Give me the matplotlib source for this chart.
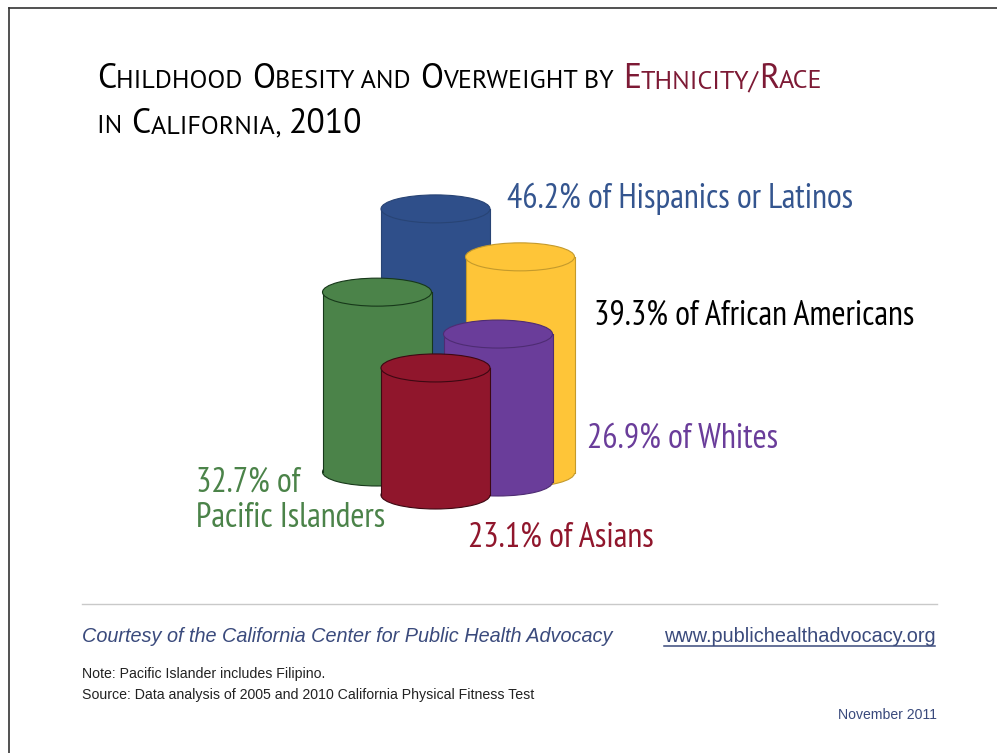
import matplotlib
matplotlib.use('Agg')
import matplotlib.pyplot as plt
from matplotlib.patches import Ellipse

# Values, drawn back to front
groups = ['Hispanics or Latinos', 'African Americans', 'Pacific Islanders', 'Whites', 'Asians']
values = [46.2, 39.3, 32.7, 26.9, 23.1]
colors = ['#2f4f8a', '#fec538', '#4b8349', '#6a3d9a', '#90162c']
edges = ['#284475', '#c49a2c', '#17381a', '#4e2c73', '#3d0812']

# Cylinder layout in pixels
centers = [435.5, 520, 377, 498, 435.5]
bases = [463, 473, 472, 482, 495]
px_per_pct = 5.5
rx = 54.5
ry = 14

title_font = ['PT Sans', 'Lato']
label_font = ['PT Sans Narrow', 'Lato']
body_font = 'Liberation Sans'
dark_red = '#7d1a35'
navy = '#3a4a7c'

fig = plt.figure(figsize=(9.97, 7.53), dpi=100)
ax = fig.add_axes([0, 0, 1, 1])
ax.set_xlim(0, 997)
ax.set_ylim(753, 0)
ax.axis('off')

# Slide border
ax.plot([9, 9], [753, 8], color='#333333', lw=1.2)
ax.plot([9, 997], [8, 8], color='#333333', lw=1.2)

# Cylinders
for i in range(len(values)):
    top = bases[i] - values[i] * px_per_pct
    z = 2 + i
    ax.add_patch(Ellipse((centers[i], bases[i]), rx * 2, ry * 2, fc=colors[i], ec=edges[i], lw=0.8, zorder=z))
    ax.bar(centers[i], bases[i] - top, width=rx * 2, bottom=top, color=colors[i], lw=0, zorder=z)
    ax.plot([centers[i] - rx] * 2, [top, bases[i]], color=edges[i], lw=0.8, zorder=z)
    ax.plot([centers[i] + rx] * 2, [top, bases[i]], color=edges[i], lw=0.8, zorder=z)
    ax.add_patch(Ellipse((centers[i], top), rx * 2, ry * 2, fc=colors[i], ec=edges[i], lw=0.8, zorder=z))


def small_caps(x, y, runs):
    # runs = (text, size, colour), placed one after the other on a baseline
    r = fig.canvas.get_renderer()
    for s, size, col in runs:
        t = ax.text(x, y, s, fontsize=size, color=col, family=title_font, va='baseline', ha='left')
        w = t.get_window_extent(r).width
        if s.endswith(' '):
            w += size * 0.12
        x += w


big = 24.2
small = 18.8
small_caps(97, 88, [('C', big, 'black'), ('HILDHOOD ', small, 'black'), ('O', big, 'black'),
                    ('BESITY AND ', small, 'black'), ('O', big, 'black'), ('VERWEIGHT BY ', small, 'black'),
                    ('E', big, dark_red), ('THNICITY/', small, dark_red), ('R', big, dark_red), ('ACE', small, dark_red)])
small_caps(97, 133, [('IN ', small, 'black'), ('C', big, 'black'), ('ALIFORNIA, ', small, 'black'), ('2010', big, 'black')])

# Labels
lab = 24.5
ax.text(507, 208, '46.2% of Hispanics or Latinos', fontsize=lab, color='#34558f', family=label_font)
ax.text(594, 325, '39.3% of African Americans', fontsize=lab, color='black', family=label_font)
ax.text(587, 448, '26.9% of Whites', fontsize=lab, color='#6a3d9a', family=label_font)
ax.text(196, 492, '32.7% of', fontsize=lab, color='#4b8349', family=label_font)
ax.text(196, 527, 'Pacific Islanders', fontsize=lab, color='#4b8349', family=label_font)
ax.text(468, 547, '23.1% of Asians', fontsize=lab, color='#90162c', family=label_font)

# Footer
ax.plot([82, 937], [604, 604], color='#c9c9c9', lw=1)
ax.text(82, 642, 'Courtesy of the California Center for Public Health Advocacy', fontsize=14.35,
        style='italic', color=navy, family=body_font)
ax.text(664, 642, 'www.publichealthadvocacy.org', fontsize=14.3, color=navy, family=body_font)
ax.plot([664, 935], [646, 646], color=navy, lw=1.1)
ax.text(82, 678, 'Note: Pacific Islander includes Filipino.', fontsize=10.2, color='#222222', family=body_font)
ax.text(82, 699, 'Source: Data analysis of 2005 and 2010 California Physical Fitness Test', fontsize=10.2,
        color='#222222', family=body_font)
ax.text(937, 719, 'November 2011', fontsize=10.1, color=navy, family=body_font, ha='right')

fig.savefig('out.png', dpi=100)
